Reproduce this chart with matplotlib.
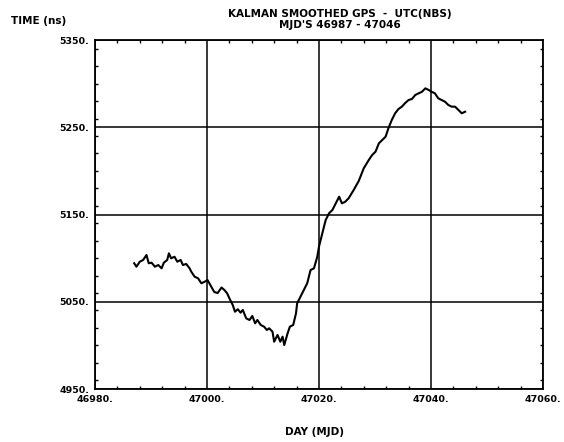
import matplotlib

matplotlib.use("Agg")
import matplotlib.pyplot as plt
from matplotlib.ticker import FixedLocator, MultipleLocator

# Kalman-smoothed GPS - UTC(NBS)
mjd = [46987.0, 46987.4, 46988.0, 46988.6, 46989.2, 46989.6, 46990.1, 46990.7,
       46991.3, 46991.9, 46992.3, 46992.9, 46993.2, 46993.6, 46994.2, 46994.7,
       46995.3, 46995.7, 46996.3, 46996.9, 46997.2, 46997.8, 46998.4, 46999.0,
       46999.6, 47000.1, 47000.6, 47001.3, 47001.9, 47002.6, 47003.1, 47003.6,
       47004.0, 47004.6, 47005.0, 47005.5, 47006.0, 47006.4, 47007.0, 47007.6,
       47008.1, 47008.6, 47009.0, 47009.6, 47010.2, 47010.7, 47011.1, 47011.7,
       47012.0, 47012.6, 47013.1, 47013.5, 47013.8, 47014.4, 47014.8, 47015.4,
       47015.9, 47016.1, 47016.7, 47017.0, 47017.9, 47018.5, 47019.1, 47019.7,
       47020.0, 47020.6, 47021.2, 47021.8, 47022.4, 47023.0, 47023.6, 47024.1,
       47024.7, 47025.3, 47026.2, 47027.1, 47028.0, 47028.9, 47029.5, 47030.1,
       47030.7, 47031.3, 47031.9, 47032.4, 47033.0, 47033.6, 47034.2, 47034.8,
       47035.4, 47036.0, 47036.6, 47037.2, 47037.8, 47038.4, 47039.0, 47039.6,
       47040.1, 47040.7, 47041.3, 47041.9, 47042.5, 47043.1, 47043.7, 47044.3,
       47044.9, 47045.5, 47046.1]
time_ns = [5094.1, 5090.2, 5095.9, 5097.9, 5103.6, 5094.1, 5094.8, 5090.2,
           5092.1, 5088.3, 5094.8, 5097.9, 5105.5, 5099.8, 5101.6, 5095.9,
           5097.9, 5092.1, 5093.3, 5088.3, 5084.4, 5078.7, 5076.9, 5071.2,
           5073.0, 5074.9, 5069.2, 5061.2, 5060.0, 5066.3, 5063.5, 5059.7,
           5054.0, 5046.3, 5038.6, 5041.4, 5037.5, 5040.6, 5031.0, 5029.1,
           5033.7, 5025.3, 5029.1, 5023.4, 5021.4, 5017.6, 5019.6, 5015.7,
           5004.2, 5011.9, 5004.2, 5010.0, 5000.4, 5013.8, 5021.4, 5023.4,
           5036.8, 5048.2, 5055.8, 5059.7, 5071.2, 5086.4, 5088.3, 5101.6,
           5113.1, 5128.5, 5143.7, 5151.4, 5155.2, 5162.8, 5170.4, 5162.8,
           5164.7, 5168.6, 5178.1, 5188.4, 5203.0, 5212.5, 5218.2, 5222.0,
           5231.6, 5235.4, 5239.2, 5248.8, 5258.3, 5266.0, 5270.9, 5273.6,
           5277.8, 5281.2, 5282.4, 5287.0, 5288.9, 5290.7, 5294.6, 5292.7,
           5290.7, 5288.9, 5283.2, 5281.2, 5279.3, 5275.5, 5273.6, 5273.6,
           5269.8, 5266.0, 5267.8]

x_ticks = [46980, 47000, 47020, 47040, 47060]
y_ticks = [4950, 5050, 5150, 5250, 5350]
x_labels = ["46980.", "47000.", "47020.", "47040.", "47060."]
y_labels = ["4950.", "5050.", "5150.", "5250.", "5350."]

INK = "black"
FONT = dict(family="DejaVu Sans", fontweight="bold", color=INK)

fig = plt.figure(figsize=(5.64, 4.42), dpi=100)
ax = fig.add_axes([0.1684, 0.1199, 0.7943, 0.7896])

ax.plot(mjd, time_ns, color=INK, lw=1.5, zorder=3)

ax.set_xlim(x_ticks[0], x_ticks[-1])
ax.set_ylim(y_ticks[0], y_ticks[-1])
ax.xaxis.set_major_locator(FixedLocator(x_ticks))
ax.yaxis.set_major_locator(FixedLocator(y_ticks))
ax.xaxis.set_minor_locator(MultipleLocator(4))
ax.yaxis.set_minor_locator(MultipleLocator(20))
ax.set_xticklabels(x_labels, fontsize=6.8, **FONT)
ax.set_yticklabels(y_labels, fontsize=6.8, **FONT)
ax.tick_params(which="major", length=0, pad=4)
ax.tick_params(which="minor", direction="in", length=2.2, width=1.0,
               top=True, right=True)
ax.grid(True, which="major", color=INK, lw=1.1)
for s in ax.spines.values():
    s.set_linewidth(1.3)

fig.text(0.603, 0.968, "KALMAN SMOOTHED GPS  -  UTC(NBS)", ha="center",
         va="center", fontsize=7.5, **FONT)
fig.text(0.603, 0.943, "MJD'S 46987 - 47046", ha="center", va="center",
         fontsize=7.5, **FONT)
fig.text(0.02, 0.953, "TIME (ns)", ha="left", va="center", fontsize=7.5, **FONT)
fig.text(0.558, 0.022, "DAY (MJD)", ha="center", va="center", fontsize=7.5, **FONT)

fig.savefig("out.png", dpi=100, facecolor="white")
